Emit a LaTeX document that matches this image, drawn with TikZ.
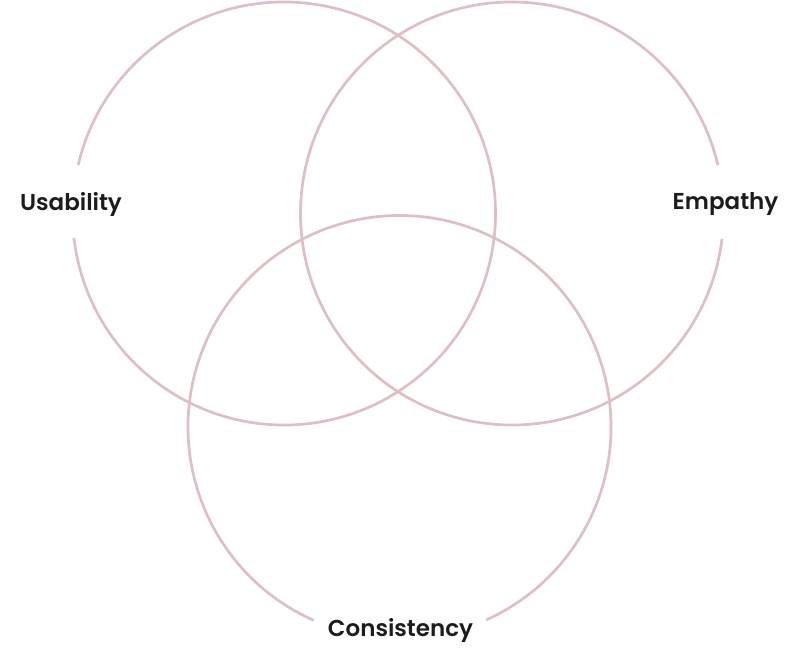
\documentclass[tikz,border=0pt]{standalone}
\usepackage{fontspec}
\newfontfamily\setfont{Poppins SemiBold}
\usepackage{tikz}
\definecolor{ringpink}{RGB}{222,192,196}
\definecolor{inkgray}{RGB}{28,28,28}
\tikzset{
ring/.style={draw=ringpink, line width=2.7pt},
setname/.style={text=inkgray, font=\setfont\fontsize{23pt}{27pt}\selectfont, inner sep=0pt}
}
\begin{document}
\begin{tikzpicture}[x=1pt, y=-1pt]
			\useasboundingbox (0,0) rectangle (799,665);
			\coordinate (cU) at (284,213.5);
			\coordinate (cE) at (512,213.5);
			\coordinate (cC) at (399.5,427);
			% ----
			\draw[ring] (cU) ++(193.2:211.5) arc[start angle=193.2, end angle=533.4, radius=211.5];
			\draw[ring] (cE) ++(6.9:211.5) arc[start angle=6.9, end angle=346.8, radius=211.5];
			\draw[ring] (cC) ++(113.9:211.5) arc[start angle=113.9, end angle=425.8, radius=211.5];
			% ----
			\node[setname] (usab) at (71,204.5) {Usability};
			\node[setname] (empa) at (725.5,204.5) {Empathy};
			\node[setname] (cons) at (400.5,630.5) {Consistency};
		\end{tikzpicture}
\end{document}
